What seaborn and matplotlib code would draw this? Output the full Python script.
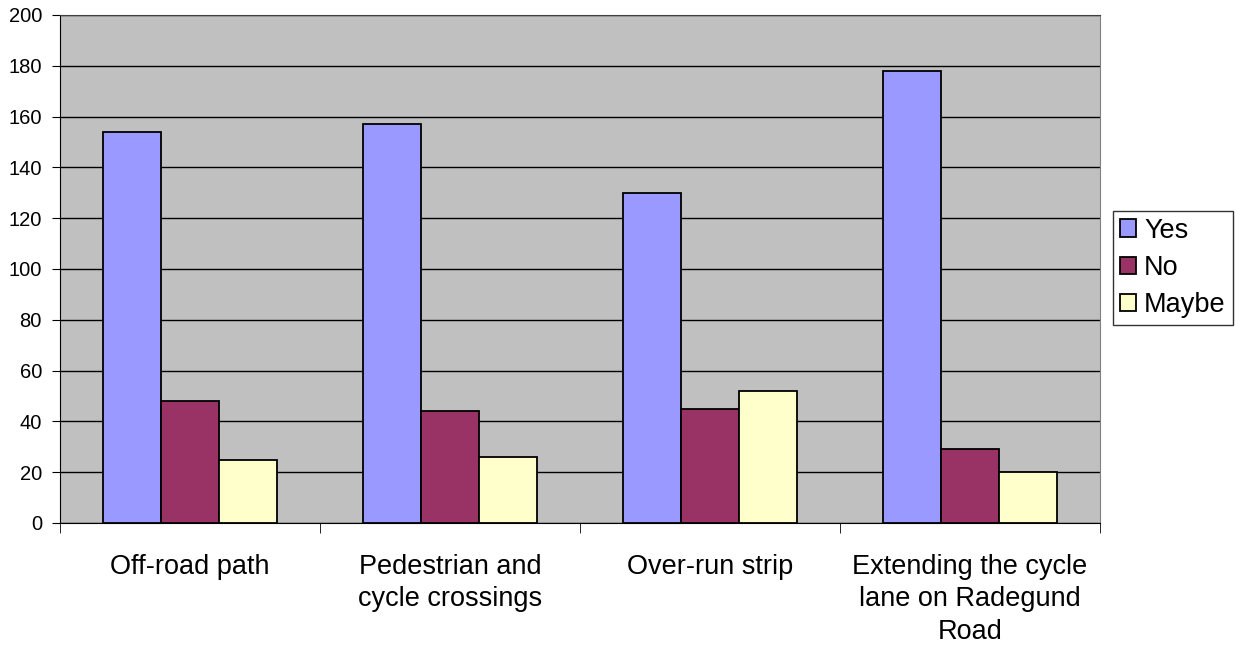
import pandas as pd
import matplotlib.pyplot as plt
import seaborn as sns
from matplotlib.ticker import FixedLocator

categories = ["Off-road path", "Pedestrian and\ncycle crossings", "Over-run strip",
              "Extending the cycle\nlane on Radegund\nRoad"]
yes_values = [154, 157, 130, 178]
no_values = [48, 44, 45, 29]
maybe_values = [25, 26, 52, 20]
series_names = ["Yes", "No", "Maybe"]
colors = ["#9999FF", "#993366", "#FFFFCC"]

rows = []
for name, vals in zip(series_names, [yes_values, no_values, maybe_values]):
    for cat, v in zip(categories, vals):
        rows.append({"Category": cat, "Series": name, "Value": v})
df = pd.DataFrame(rows)

sns.set_style("white")
plt.rcParams['font.family'] = ['Liberation Sans', 'DejaVu Sans']
plt.rcParams['text.color'] = 'black'
plt.rcParams['xtick.color'] = 'black'
plt.rcParams['ytick.color'] = 'black'

fig = plt.figure(figsize=(12.35, 6.48), dpi=100)
ax = fig.add_axes([60 / 1235, 1 - 523 / 648, 1040 / 1235, 508 / 648])
ax.set_facecolor("#C0C0C0")

sns.barplot(data=df, x="Category", y="Value", hue="Series", palette=colors,
            width=0.67, edgecolor="black", linewidth=1.3, saturation=1,
            ax=ax, zorder=3)

ax.set_ylim(0, 200)
ax.set_xlim(-0.5, len(categories) - 0.5)
ax.set_yticks(range(0, 201, 20))
ax.yaxis.grid(True, color="black", linewidth=1, zorder=0)
ax.set_axisbelow(True)
ax.tick_params(axis="y", labelsize=14.5, length=6, pad=7, direction="out",
               color="black", labelcolor="black", left=True)
ax.tick_params(axis="x", which="major", labelsize=19.5, length=0, pad=22, labelcolor="black")
for lbl in ax.get_xticklabels():
    lbl.set_linespacing(1.33)
ax.xaxis.set_minor_locator(FixedLocator([i - 0.5 for i in range(len(categories) + 1)]))
ax.tick_params(axis="x", which="minor", length=7, color="black", bottom=True)
ax.set_xlabel("")
ax.set_ylabel("")
for s in ax.spines.values():
    s.set_color("#808080")
ax.spines["left"].set_color("black")
ax.spines["bottom"].set_color("black")
ax.spines["top"].set_color("#404040")

handles, labels = ax.get_legend_handles_labels()
ax.legend_.remove()
leg = fig.legend(handles, labels, loc="center left", bbox_to_anchor=(1113 / 1235, 1 - 268 / 648),
                 frameon=True, fancybox=False, edgecolor="black", fontsize=19.5,
                 handlelength=0.6, handleheight=0.6, handletextpad=0.3,
                 labelspacing=0.42, borderpad=0.25, borderaxespad=0)
leg.get_frame().set_linewidth(1)
for t in leg.get_texts():
    t.set_color("black")

plt.savefig("out.png", dpi=100)
